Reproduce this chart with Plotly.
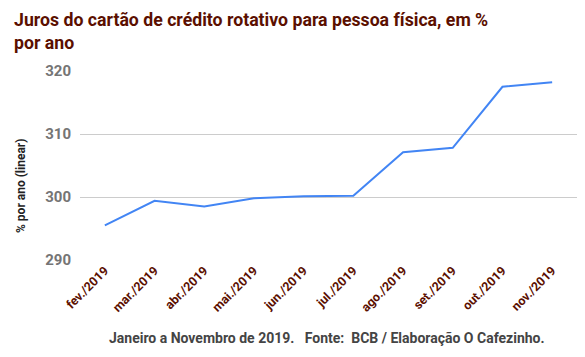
import plotly.graph_objects as go

months = ["fev./2019", "mar./2019", "abr./2019", "mai./2019", "jun./2019",
          "jul./2019", "ago./2019", "set./2019", "out./2019", "nov./2019"]
rates = [295.5, 299.4, 298.5, 299.8, 300.1, 300.2, 307.1, 307.8, 317.5, 318.2]
y_ticks = [290, 300, 310, 320]

L, R, T, B = 80, 8, 71, 97
W, H = 585, 357
pw, ph = W - L - R, H - T - B


def px_x(x):
    return (x - L) / pw


def px_y(y):
    return (H - B - y) / ph


fig = go.Figure()
fig.add_trace(go.Scatter(x=months, y=rates, mode="lines",
                         line=dict(color="#4285f4", width=2), hoverinfo="x+y"))

fig.update_layout(
    width=W, height=H,
    paper_bgcolor="white", plot_bgcolor="white",
    margin=dict(l=L, r=R, t=T, b=B),
    showlegend=False,
    xaxis=dict(type="category", range=[-0.5, 9.5], tickangle=-45, showgrid=False,
               showline=False, zeroline=False, automargin=False,
               tickfont=dict(family="Roboto", size=12.5, color="#5b0f00", weight="bold")),
    yaxis=dict(range=[290, 320], tickvals=y_ticks, showgrid=True, gridcolor="#cccccc",
               zeroline=False, showline=False, ticks="", ticklabelstandoff=8,
               automargin=False,
               tickfont=dict(family="Roboto", size=15, color="#757575", weight="bold")),
    annotations=[
        dict(text="<b>Juros do cartão de crédito rotativo para pessoa física, em %<br>por ano</b>",
             x=px_x(12), y=px_y(8), xref="paper", yref="paper",
             xanchor="left", yanchor="top", align="left", showarrow=False,
             font=dict(family="Roboto", size=17.7, color="#5b0f00")),
        dict(text="<b>% por ano (linear)</b>", textangle=-90,
             x=px_x(21), y=px_y(186), xref="paper", yref="paper",
             xanchor="center", yanchor="middle", showarrow=False,
             font=dict(family="Roboto", size=12, color="#222222")),
        dict(text="<b>Janeiro a Novembro de 2019.   Fonte:  BCB / Elaboração O Cafezinho.</b>",
             x=px_x(327), y=px_y(338), xref="paper", yref="paper",
             xanchor="center", yanchor="middle", showarrow=False,
             font=dict(family="Roboto", size=14, color="#444444")),
    ],
)
fig.write_html("out.html", config={"displayModeBar": False},
               post_script="document.body.style.margin='0';document.body.style.overflow='hidden';")
